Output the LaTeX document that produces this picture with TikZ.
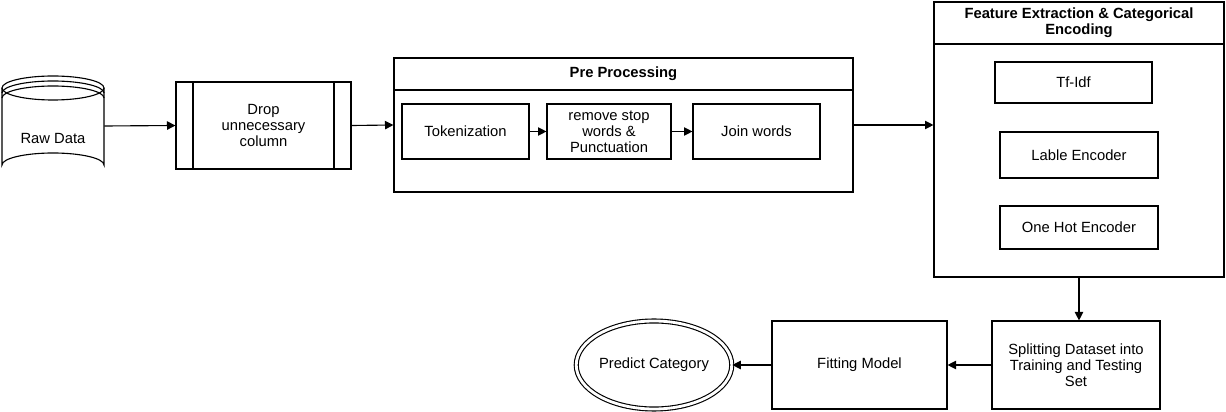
\documentclass[tikz,border=0pt]{standalone}
\usepackage{fontspec}
\setmainfont{Liberation Sans}
\usetikzlibrary{shapes.geometric,arrows.meta}
\begin{document}
\begin{tikzpicture}[x=0.025cm, y=-0.025cm, font=\fontsize{10.5}{11.5}\selectfont,
    box/.style={draw, thick, rectangle, align=center, inner sep=0pt},
    flow/.style={-{Triangle[length=6pt,width=6pt]}, thick}]
  \useasboundingbox (0,0) rectangle (1226,412);
  % Raw data cylinder
  \node[minimum width=102*0.025cm, minimum height=102*0.025cm] at (53,126) (raw) {};
  \draw[thick] (2,88) -- (2,165) arc[start angle=180, end angle=360, x radius=51, y radius=12] -- (104,88);
  \draw[thick] (53,88) ellipse[x radius=51, y radius=12];
  \draw[thick] (2,93) arc[start angle=180, end angle=360, x radius=51, y radius=12];
  \draw[thick] (2,98) arc[start angle=180, end angle=360, x radius=51, y radius=12];
  \node at (53,138) {Raw Data};
  % Drop column
  \node[box, minimum width=175*0.025cm, minimum height=87*0.025cm] at (263.5,125.5) (drop) {Drop\\unnecessary\\column};
  \draw[thick] (193,82) -- (193,169) (334,82) -- (334,169);
  % Pre processing
  \node[box, minimum width=459*0.025cm, minimum height=134*0.025cm] at (623.5,125) (pre) {};
  \draw[thick] (394,90) -- (853,90);
  \node[font=\fontsize{10.5}{11.5}\selectfont\bfseries] at (623.5,74) {Pre Processing};
  \node[box, minimum width=127*0.025cm, minimum height=55*0.025cm] at (465.5,131.5) (tok) {Tokenization};
  \node[box, minimum width=124*0.025cm, minimum height=55*0.025cm] at (609,131.5) (stop) {remove stop\\words \&\\Punctuation};
  \node[box, minimum width=127*0.025cm, minimum height=55*0.025cm] at (756.5,131.5) (join) {Join words};
  % Feature extraction
  \node[box, minimum width=290*0.025cm, minimum height=275*0.025cm] at (1079,139.5) (feat) {};
  \draw[thick] (934,44) -- (1224,44);
  \node[font=\fontsize{10.5}{11.5}\selectfont\bfseries, align=center] at (1079,23) {Feature Extraction \& Categorical\\Encoding};
  \node[box, minimum width=157*0.025cm, minimum height=41*0.025cm] at (1073.5,82.5) (tfidf) {Tf-Idf};
  \node[box, minimum width=158*0.025cm, minimum height=46*0.025cm] at (1079,155) (lable) {Lable Encoder};
  \node[box, minimum width=158*0.025cm, minimum height=43*0.025cm] at (1079,227.5) (onehot) {One Hot Encoder};
  % Bottom row
  \node[box, minimum width=168*0.025cm, minimum height=88*0.025cm] at (1076,365) (split) {Splitting Dataset into\\Training and Testing\\Set};
  \node[box, minimum width=175*0.025cm, minimum height=88*0.025cm] at (859.5,365) (fit) {Fitting Model};
  \node[ellipse, draw, thick, double, double distance=2pt, minimum width=142*0.025cm, minimum height=88*0.025cm, inner sep=0pt] at (654,365) (pred) {Predict Category};
  % Arrows
  \draw[flow] (raw.east) -- (drop.west);
  \draw[flow] (drop.east) -- (pre.west);
  \draw[flow] (tok) -- (stop);
  \draw[flow] (stop) -- (join);
  \draw[flow] (pre.east) -- (feat.west |- pre.east);
  \draw[flow] (feat.south) -- (split.north -| feat.south);
  \draw[flow] (split) -- (fit);
  \draw[flow] (fit) -- (pred);
\end{tikzpicture}
\end{document}
